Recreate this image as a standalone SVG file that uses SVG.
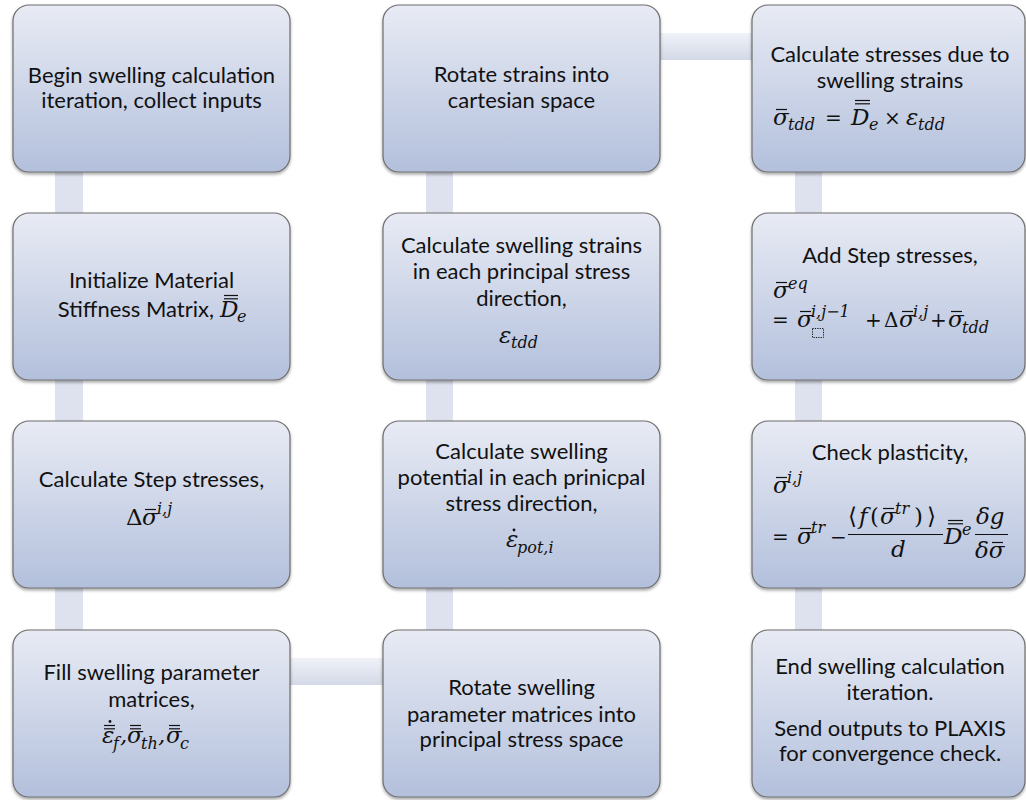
<svg xmlns="http://www.w3.org/2000/svg" width="1026" height="800" viewBox="0 0 1026 800">
<defs>
<linearGradient id="boxg" x1="0" y1="0" x2="0" y2="1">
<stop offset="0" stop-color="#e8ebf4"/>
<stop offset="1" stop-color="#b3c0dc"/>
</linearGradient>
<linearGradient id="hbar" x1="0" y1="0" x2="0" y2="1">
<stop offset="0" stop-color="#f0f2f8"/>
<stop offset="1" stop-color="#d3d9e7"/>
</linearGradient>
<filter id="sh" x="-5%" y="-5%" width="110%" height="115%">
<feDropShadow dx="0" dy="2" stdDeviation="1.6" flood-color="#000" flood-opacity="0.35"/>
</filter>
</defs>
<style>
.box{fill:url(#boxg);stroke:#6e6e6e;stroke-width:1.2;filter:url(#sh)}
.vbar{fill:#dde2ee}
.hbar{fill:url(#hbar)}
.t{font-family:Lato,"Liberation Sans",sans-serif;font-size:22px;fill:#111;text-anchor:middle}
.m{font-family:"DejaVu Serif",serif;font-style:italic;font-size:23px;fill:#111}
.u{font-family:"DejaVu Serif","DejaVu Sans",serif;font-size:23px;fill:#111}
.o{font-family:"DejaVu Serif","DejaVu Sans",serif;font-size:20px;fill:#111}
.s{font-family:"DejaVu Serif",serif;font-style:italic;font-size:16px;fill:#111}
.bar{stroke:#111;stroke-width:1.2;fill:none}
</style>
<rect width="1026" height="800" fill="#fff"/>
<g id="connectors">
<rect class="vbar" x="55" y="165" width="28" height="55"/>
<rect class="vbar" x="55" y="375" width="28" height="52"/>
<rect class="vbar" x="55" y="583" width="28" height="52"/>
<rect class="hbar" x="285" y="658" width="103" height="27"/>
<rect class="vbar" x="426" y="583" width="27" height="52"/>
<rect class="vbar" x="426" y="375" width="27" height="52"/>
<rect class="vbar" x="426" y="165" width="27" height="55"/>
<rect class="hbar" x="655" y="33" width="102" height="27"/>
<rect class="vbar" x="795" y="165" width="27" height="55"/>
<rect class="vbar" x="795" y="375" width="27" height="52"/>
<rect class="vbar" x="795" y="583" width="27" height="52"/>
</g>
<g id="n1">
<rect class="box" x="13" y="5" width="277" height="167" rx="16"/>
<text class="t" x="151.5" y="83">Begin swelling calculation</text>
<text class="t" x="151.5" y="108">iteration, collect inputs</text>
</g>
<g id="n2">
<rect class="box" x="13" y="213" width="277" height="167" rx="16"/>
<text class="t" x="151.5" y="288">Initialize Material</text>
<text class="t" x="214" y="317" style="text-anchor:end">Stiffness Matrix,</text>
<text class="m" x="220" y="317">D</text>
<line class="bar" x1="224" y1="295.5" x2="238" y2="295.5"/>
<line class="bar" x1="224" y1="298.8" x2="238" y2="298.8"/>
<text class="s" x="237" y="322">e</text>
</g>
<g id="n3">
<rect class="box" x="13" y="421" width="277" height="167" rx="16"/>
<text class="t" x="151.5" y="487">Calculate Step stresses,</text>
<text class="u" x="126" y="525">Δ</text>
<text class="m" x="142" y="525">σ</text>
<line class="bar" x1="145" y1="509.5" x2="156" y2="509.5"/>
<text class="s" x="157" y="514">i,j</text>
</g>
<g id="n4">
<rect class="box" x="13" y="630" width="277" height="167" rx="16"/>
<text class="t" x="151.5" y="680">Fill swelling parameter</text>
<text class="t" x="151.5" y="707">matrices,</text>
<text class="m" x="102" y="743">ε</text>
<circle cx="110" cy="721.5" r="1.4" fill="#111"/>
<line class="bar" x1="104" y1="725.5" x2="115" y2="725.5"/>
<line class="bar" x1="104" y1="728.8" x2="115" y2="728.8"/>
<text class="s" x="113" y="749">f</text>
<text class="m" x="120" y="743">,</text>
<text class="m" x="127" y="743">σ</text>
<line class="bar" x1="130" y1="725.5" x2="141" y2="725.5"/>
<line class="bar" x1="130" y1="728.8" x2="141" y2="728.8"/>
<text class="s" x="141" y="749">th</text>
<text class="m" x="158" y="743">,</text>
<text class="m" x="166" y="743">σ</text>
<line class="bar" x1="169" y1="725.5" x2="180" y2="725.5"/>
<line class="bar" x1="169" y1="728.8" x2="180" y2="728.8"/>
<text class="s" x="180" y="749">c</text>
</g>
<g id="n5">
<rect class="box" x="383" y="5" width="277" height="167" rx="16"/>
<text class="t" x="521.5" y="82">Rotate strains into</text>
<text class="t" x="521.5" y="108">cartesian space</text>
</g>
<g id="n6">
<rect class="box" x="383" y="213" width="277" height="167" rx="16"/>
<text class="t" x="521.5" y="253">Calculate swelling strains</text>
<text class="t" x="521.5" y="279">in each principal stress</text>
<text class="t" x="521.5" y="306">direction,</text>
<text class="m" x="499" y="343">ε</text>
<text class="s" x="511" y="348">tdd</text>
</g>
<g id="n7">
<rect class="box" x="383" y="421" width="277" height="167" rx="16"/>
<text class="t" x="521.5" y="459">Calculate swelling</text>
<text class="t" x="521.5" y="485">potential in each prinicpal</text>
<text class="t" x="521.5" y="511">stress direction,</text>
<text class="m" x="506" y="547">ε</text>
<circle cx="514" cy="530" r="1.4" fill="#111"/>
<text class="s" x="517" y="553">pot,i</text>
</g>
<g id="n8">
<rect class="box" x="383" y="630" width="277" height="167" rx="16"/>
<text class="t" x="521.5" y="695">Rotate swelling</text>
<text class="t" x="521.5" y="722">parameter matrices into</text>
<text class="t" x="521.5" y="747">principal stress space</text>
</g>
<g id="n9">
<rect class="box" x="752" y="5" width="273" height="167" rx="16"/>
<text class="t" x="890" y="62">Calculate stresses due to</text>
<text class="t" x="890" y="88">swelling strains</text>
<text class="m" x="773" y="125">σ</text>
<line class="bar" x1="776" y1="109.5" x2="787" y2="109.5"/>
<text class="s" x="788" y="130">tdd</text>
<text class="o" x="825" y="125">=</text>
<text class="m" x="851" y="125">D</text>
<line class="bar" x1="855" y1="100.5" x2="870" y2="100.5"/>
<line class="bar" x1="855" y1="103.8" x2="870" y2="103.8"/>
<text class="s" x="869" y="130">e</text>
<text class="o" x="884" y="125">×</text>
<text class="m" x="906" y="125">ε</text>
<text class="s" x="918" y="130">tdd</text>
</g>
<g id="n10">
<rect class="box" x="752" y="213" width="273" height="167" rx="16"/>
<text class="t" x="890" y="263">Add Step stresses,</text>
<text class="m" x="773" y="298">σ</text>
<line class="bar" x1="776" y1="282.5" x2="787" y2="282.5"/>
<text class="s" x="788" y="289">eq</text>
<text class="o" x="772" y="327">=</text>
<text class="m" x="797" y="327">σ</text>
<line class="bar" x1="800" y1="311.5" x2="811" y2="311.5"/>
<text class="s" x="811" y="317">i,j−1</text>
<rect x="812.5" y="328.5" width="11" height="9" fill="none" stroke="#111" stroke-width="1" stroke-dasharray="1.2,1.2"/>
<text class="o" x="865" y="327">+</text>
<text class="o" x="884" y="327">Δ</text>
<text class="m" x="899" y="327">σ</text>
<line class="bar" x1="902" y1="311.5" x2="913" y2="311.5"/>
<text class="s" x="913" y="317">i,j</text>
<text class="o" x="930" y="327">+</text>
<text class="m" x="948" y="327">σ</text>
<line class="bar" x1="951" y1="311.5" x2="962" y2="311.5"/>
<text class="s" x="962" y="333">tdd</text>
</g>
<g id="n11">
<rect class="box" x="752" y="421" width="273" height="167" rx="16"/>
<text class="t" x="890" y="460">Check plasticity,</text>
<text class="m" x="773" y="493">σ</text>
<line class="bar" x1="776" y1="477.5" x2="787" y2="477.5"/>
<text class="s" x="787" y="483">i,j</text>
<text class="o" x="772" y="544">=</text>
<text class="m" x="797" y="544">σ</text>
<line class="bar" x1="800" y1="528.5" x2="811" y2="528.5"/>
<text class="s" x="811" y="533">tr</text>
<text class="o" x="830" y="544">−</text>
<text class="u" x="848" y="524">⟨</text>
<text class="m" x="859" y="524">f</text>
<text class="u" x="870" y="524">(</text>
<text class="m" x="880" y="524">σ</text>
<line class="bar" x1="883" y1="508.5" x2="894" y2="508.5"/>
<text class="s" x="895" y="514">tr</text>
<text class="u" x="914" y="524">)</text>
<text class="u" x="927" y="524">⟩</text>
<line class="bar" x1="848" y1="534.5" x2="943" y2="534.5"/>
<text class="m" x="891" y="557">d</text>
<text class="m" x="944" y="544">D</text>
<line class="bar" x1="948" y1="520.5" x2="963" y2="520.5"/>
<line class="bar" x1="948" y1="523.8" x2="963" y2="523.8"/>
<text class="s" x="962" y="535">e</text>
<text class="m" x="976" y="524">δg</text>
<line class="bar" x1="975" y1="534.5" x2="1008" y2="534.5"/>
<text class="m" x="975" y="558">δσ</text>
<line class="bar" x1="992" y1="542.5" x2="1003" y2="542.5"/>
</g>
<g id="n12">
<rect class="box" x="752" y="630" width="273" height="167" rx="16"/>
<text class="t" x="890" y="674">End swelling calculation</text>
<text class="t" x="890" y="700">iteration.</text>
<text class="t" x="890" y="736">Send outputs to PLAXIS</text>
<text class="t" x="890" y="761">for convergence check.</text>
</g>
</svg>
